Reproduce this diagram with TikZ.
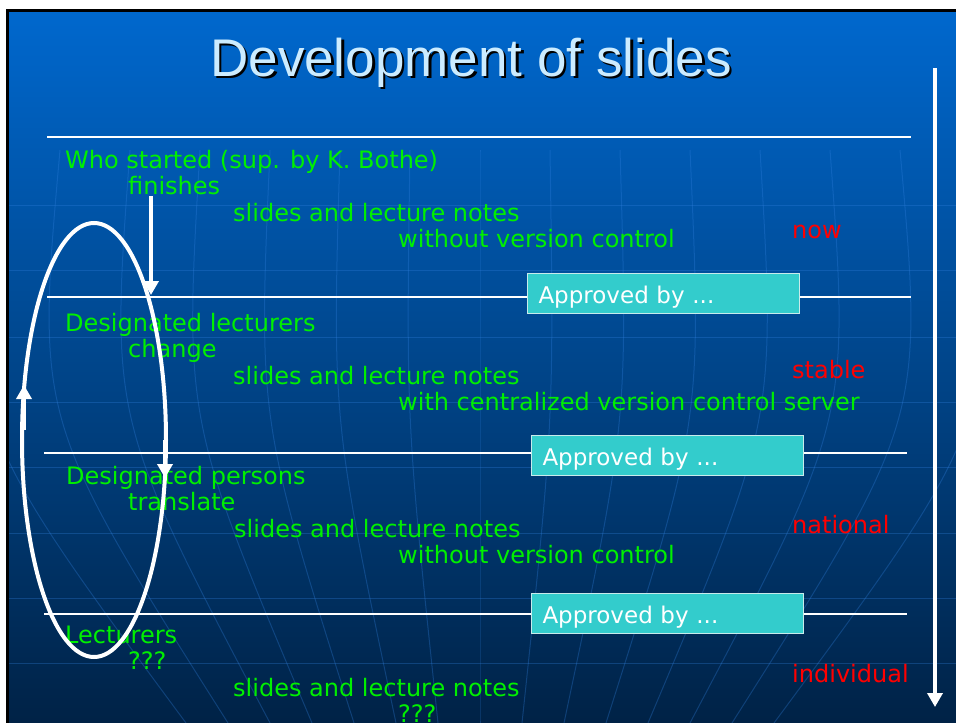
\documentclass[tikz,border=0pt]{standalone}
\usepackage{fontspec}
\setmainfont{DejaVu Sans}
\newfontfamily\titlefont{Liberation Sans}
\usetikzlibrary{arrows.meta}

\definecolor{bgtop}{RGB}{0,104,206}
\definecolor{bgbot}{RGB}{0,34,70}
\definecolor{grn}{RGB}{0,240,0}
\definecolor{rd}{RGB}{255,0,0}
\definecolor{boxc}{RGB}{51,204,204}
\definecolor{boxline}{RGB}{200,235,235}
\definecolor{ttl}{RGB}{204,236,255}
\definecolor{globec}{RGB}{50,130,225}

\begin{document}
\begin{tikzpicture}[x=1pt,y=-1pt,
  gtxt/.style={anchor=base west, inner sep=0pt, text=grn, font=\fontsize{24}{28}\selectfont},
  rtxt/.style={gtxt, text=rd},
  approve/.style={draw=boxline, line width=1pt, fill=boxc, anchor=north west,
    minimum height=40pt, inner xsep=11pt, inner ysep=0pt, text width=250pt,
    text height=22pt, text depth=2pt, align=left, text=white,
    font=\fontsize{23}{28}\selectfont},
  sepline/.style={white, line width=2pt},
  warrow/.style={white, line width=4pt, -{Triangle[width=15pt,length=14pt]}},
  globeline/.style={globec, line width=1pt, opacity=0.3},
  titletxt/.style={anchor=base, inner sep=0pt, font=\titlefont\fontsize{53}{60}\selectfont},
]
\useasboundingbox (0,0) rectangle (956,723);
\fill[white] (0,0) rectangle (956,723);
\shade[top color=bgtop, bottom color=bgbot] (7,10) rectangle (956,723);

% globe decoration
\begin{scope}
\clip (7,10) rectangle (956,723);
\foreach \yy in {205,270,337,402,467,533,598,663}
  \draw[globeline] (7,\yy) -- (956,\yy);
\foreach \i in {-7,...,7}
  \draw[globeline] ({480+\i*70},150) .. controls ({480+\i*74},420) .. ({480+\i*42},723);
\end{scope}

\draw[black, line width=3pt] (7,723) -- (7,10) -- (956,10);

% title
\node[titletxt, text=black] (titleshadow) at (473.5,78.5) {Development of slides};
\node[titletxt, text=ttl] (title) at (471,76) {Development of slides};

% separator lines
\coordinate (l1a) at (47,137); \coordinate (l1b) at (911,137);
\coordinate (l2a) at (47,297); \coordinate (l2b) at (911,297);
\coordinate (l3a) at (44,453); \coordinate (l3b) at (907,453);
\coordinate (l4a) at (44,614); \coordinate (l4b) at (907,614);
\draw[sepline] (l1a) -- (l1b);
\draw[sepline] (l2a) -- (l2b);
\draw[sepline] (l3a) -- (l3b);
\draw[sepline] (l4a) -- (l4b);

% approval boxes
\node[approve] (ap1) at (527,273) {Approved by ...};
\node[approve] (ap2) at (531,435) {Approved by ...};
\node[approve] (ap3) at (531,593) {Approved by ...};

% block 1
\node[gtxt] (w1) at (65,168) {Who started (sup. by K. Bothe)};
\node[gtxt] (w2) at (128,194) {finishes};
\node[gtxt] (w3) at (233,221) {slides and lecture notes};
\node[gtxt] (w4) at (398,247) {without version control};
\node[rtxt] (now) at (792,238) {now};

% block 2
\node[gtxt] (d1) at (65,331) {Designated lecturers};
\node[gtxt] (d2) at (128,357) {change};
\node[gtxt] (d3) at (233,384) {slides and lecture notes};
\node[gtxt] (d4) at (398,410) {with centralized version control server};
\node[rtxt] (stable) at (792,378) {stable};

% block 3
\node[gtxt] (p1) at (66,484) {Designated persons};
\node[gtxt] (p2) at (128,510) {translate};
\node[gtxt] (p3) at (234,537) {slides and lecture notes};
\node[gtxt] (p4) at (398,563) {without version control};
\node[rtxt] (national) at (792,533) {national};

% block 4
\node[gtxt] (c1) at (65,643) {Lecturers};
\node[gtxt] (c2) at (128,669) {???};
\node[gtxt] (c3) at (233,696) {slides and lecture notes};
\node[gtxt] (c4) at (398,722) {???};
\node[rtxt] (individual) at (792,682) {individual};

% cycle ellipse
\draw[white, line width=4pt] (94,440) ellipse [x radius=72pt, y radius=217pt];

% arrows
\coordinate (a1s) at (151,196); \coordinate (a1e) at (151,295);
\coordinate (a2s) at (165,440); \coordinate (a2e) at (165,478);
\coordinate (a3s) at (24,430);  \coordinate (a3e) at (24,385);
\coordinate (a4s) at (935,68);  \coordinate (a4e) at (935,707);
\draw[warrow] (a1s) -- (a1e);
\draw[warrow] (a2s) -- (a2e);
\draw[warrow] (a3s) -- (a3e);
\draw[warrow] (a4s) -- (a4e);
\end{tikzpicture}
\end{document}
